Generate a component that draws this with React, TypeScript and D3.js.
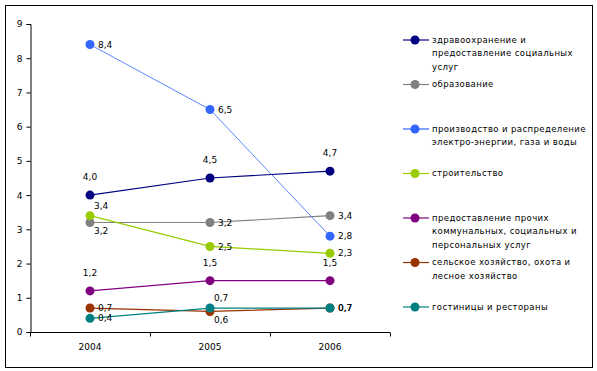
import React, { useEffect, useRef } from 'react'
import * as d3 from 'd3'

// years on the x axis
const years = ['2004', '2005', '2006']

// series names (legend lines split by hand)
const seriesNames = [
    ['здравоохранение и', 'предоставление социальных', 'услуг'],
    ['образование'],
    ['производство и распределение', 'электро-энергии, газа и воды'],
    ['строительство'],
    ['предоставление прочих', 'коммунальных, социальных и', 'персональных услуг'],
    ['сельское хозяйство, охота и', 'лесное хозяйство'],
    ['гостиницы и рестораны'],
]

const healthValues = [4.0, 4.5, 4.7]
const educationValues = [3.2, 3.2, 3.4]
const energyValues = [8.4, 6.5, 2.8]
const constructionValues = [3.4, 2.5, 2.3]
const otherServicesValues = [1.2, 1.5, 1.5]
const agricultureValues = [0.7, 0.6, 0.7]
const hotelsValues = [0.4, 0.7, 0.7]

const yTicks = [0, 1, 2, 3, 4, 5, 6, 7, 8, 9]

const colors = ['#000080', '#808080', '#3366FF', '#99CC00', '#800080', '#993300', '#008080']

// where each value label sits relative to its point
const labelPlacement = [
    ['a', 'a', 'a'],
    ['br', 'r', 'r'],
    ['r', 'r', 'r'],
    ['ar', 'r', 'r'],
    ['a', 'a', 'a'],
    ['r', 'br', 'r'],
    ['r', 'ar', 'r'],
]

const W = 597, H = 371
const font = 'DejaVu Sans, Verdana, sans-serif'

const App = () => {
    const ref = useRef<SVGSVGElement>(null)

    useEffect(() => {
        const svg = d3.select(ref.current)
        svg.selectAll('*').remove()

        const allValues = [healthValues, educationValues, energyValues, constructionValues,
            otherServicesValues, agricultureValues, hotelsValues]

        // outer frame
        svg.append('rect')
            .attr('x', 5.5).attr('y', 5.5)
            .attr('width', 587).attr('height', 362)
            .attr('fill', 'white').attr('stroke', 'black').attr('stroke-width', 1)

        const x = d3.scaleBand().domain(years).range([30, 390])
        const y = d3.scaleLinear().domain([0, 9]).range([332, 24])
        const cx = (yr: string) => (x(yr) as number) + x.bandwidth() / 2

        // y axis
        const yAxis = svg.append('g').attr('transform', 'translate(30.5,0)')
            .call(d3.axisLeft(y).tickValues(yTicks).tickSize(4).tickPadding(4).tickFormat(d3.format('d')))
        yAxis.select('.domain').attr('stroke', 'black')
        yAxis.selectAll('line').attr('stroke', 'black')
        yAxis.selectAll('text').attr('font-family', font).attr('font-size', 9).attr('fill', 'black')

        // x axis: ticks between categories
        const xg = svg.append('g').attr('transform', 'translate(0,332.5)')
        xg.append('line').attr('x1', 30).attr('x2', 390).attr('stroke', 'black')
        const bounds = [...years.map(yr => x(yr) as number), 390]
        xg.selectAll('line.t').data(bounds).join('line').attr('class', 't')
            .attr('x1', d => d + 0.5).attr('x2', d => d + 0.5).attr('y1', 0).attr('y2', 4)
            .attr('stroke', 'black')
        xg.selectAll('text').data(years).join('text')
            .attr('x', d => cx(d)).attr('y', 17)
            .attr('text-anchor', 'middle')
            .attr('font-family', font).attr('font-size', 9)
            .text(d => d)

        const line = d3.line<number>()
            .x((_, i) => cx(years[i]))
            .y(d => y(d))

        const fmt = (v: number) => d3.format('.1f')(v).replace('.', ',')

        allValues.forEach((vals, s) => {
            const g = svg.append('g')
            g.append('path').attr('d', line(vals))
                .attr('fill', 'none').attr('stroke', colors[s]).attr('stroke-width', s === 2 ? 0.8 : 1.2)
            g.selectAll('circle').data(vals).join('circle')
                .attr('cx', (_, i) => cx(years[i])).attr('cy', d => y(d)).attr('r', 4.5)
                .attr('fill', colors[s])
        })

        // value labels
        allValues.forEach((vals, s) => {
            svg.append('g').selectAll('text').data(vals).join('text')
                .attr('x', (_, i) => {
                    const p = labelPlacement[s][i]
                    return cx(years[i]) + (p === 'a' ? 0 : p === 'r' ? 8 : 4)
                })
                .attr('y', (d, i) => {
                    const p = labelPlacement[s][i]
                    const off = p === 'a' ? -18 : p === 'ar' ? -10 : p === 'br' ? 8 : 0
                    return y(d) + off
                })
                .attr('dy', '0.35em')
                .attr('text-anchor', (_, i) => labelPlacement[s][i] === 'a' ? 'middle' : 'start')
                .attr('font-family', font).attr('font-size', 9)
                .text(d => fmt(d))
        })

        // legend
        const ly = d3.scaleLinear().domain([0, 6]).range([40, 307])
        seriesNames.forEach((lines, s) => {
            const g = svg.append('g').attr('transform', `translate(0,${ly(s)})`)
            g.append('line').attr('x1', 403).attr('x2', 429).attr('y1', 0).attr('y2', 0)
                .attr('stroke', colors[s]).attr('stroke-width', 1.2)
            g.append('circle').attr('cx', 415).attr('cy', 0).attr('r', 4.5).attr('fill', colors[s])
            g.selectAll('text').data(lines).join('text')
                .attr('x', 432).attr('y', (_, i) => i * 13.3)
                .attr('dy', '0.35em')
                .attr('font-family', font).attr('font-size', 8.5)
                .attr('letter-spacing', 0.4)
                .text(d => d)
        })
    }, [])

    return (
        <div style={{ position: 'absolute', left: 0, top: 0 }}>
            <svg ref={ref} width={W} height={H} style={{ display: 'block', background: 'white' }} />
        </div>
    )
}

export default App
